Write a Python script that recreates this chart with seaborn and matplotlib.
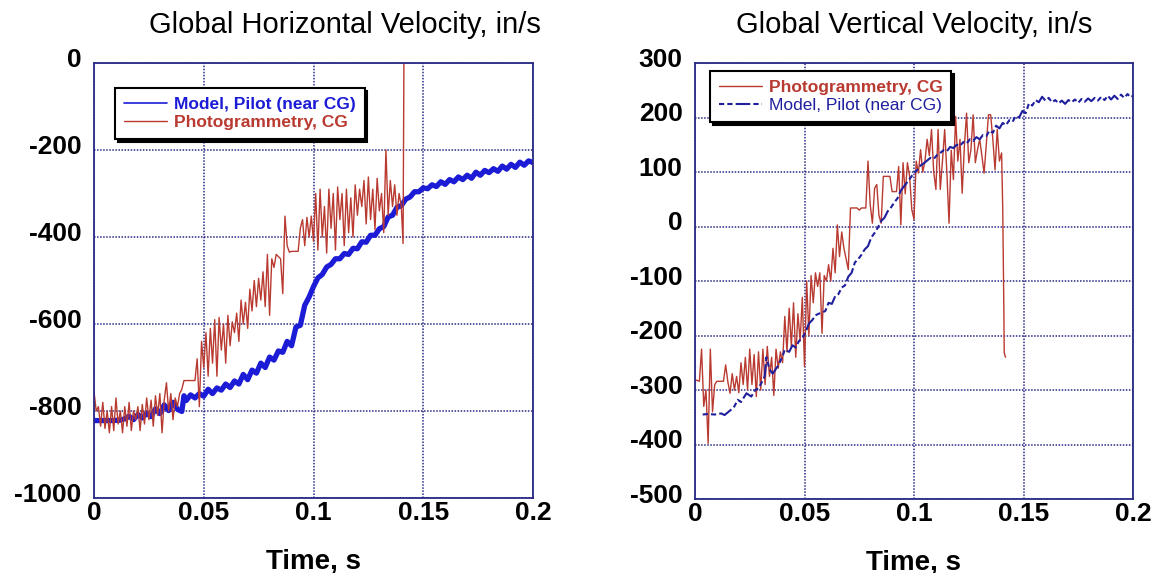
import numpy as np
import pandas as pd
import matplotlib
matplotlib.use('Agg')
import matplotlib.pyplot as plt
import matplotlib.transforms as mtransforms
import seaborn as sns

# ---------------------------------------------------------------
# Data (time in s, velocity in in/s)
# ---------------------------------------------------------------
# Horizontal velocity - photogrammetry (CG)
hz_photo_t = [0.000, 0.001, 0.002, 0.003, 0.004, 0.005, 0.006, 0.007, 0.008, 0.009,
              0.010, 0.011, 0.012, 0.013, 0.014, 0.015, 0.016, 0.017, 0.018, 0.019,
              0.020, 0.021, 0.022, 0.023, 0.024, 0.025, 0.026, 0.027, 0.028, 0.029,
              0.030, 0.031, 0.032, 0.033, 0.034, 0.035, 0.036, 0.037, 0.038, 0.039,
              0.040, 0.041, 0.042, 0.043, 0.044, 0.045, 0.046, 0.047, 0.048, 0.049,
              0.050, 0.051, 0.052, 0.053, 0.054, 0.055, 0.056, 0.057, 0.058, 0.059,
              0.060, 0.061, 0.062, 0.063, 0.064, 0.065, 0.066, 0.067, 0.068, 0.069,
              0.070, 0.071, 0.072, 0.073, 0.074, 0.075, 0.076, 0.077, 0.078, 0.079,
              0.080, 0.081, 0.082, 0.083, 0.084, 0.085, 0.086, 0.087, 0.088, 0.089,
              0.090, 0.091, 0.092, 0.093, 0.094, 0.095, 0.096, 0.097, 0.098, 0.099,
              0.100, 0.101, 0.102, 0.103, 0.104, 0.105, 0.106, 0.107, 0.108, 0.109,
              0.110, 0.111, 0.112, 0.113, 0.114, 0.115, 0.116, 0.117, 0.118, 0.119,
              0.120, 0.121, 0.122, 0.123, 0.124, 0.125, 0.126, 0.127, 0.128, 0.129,
              0.130, 0.131, 0.132, 0.133, 0.134, 0.135, 0.136, 0.137, 0.138, 0.139,
              0.140, 0.1408, 0.1412]
hz_photo_v = [-755, -800, -790, -835, -780, -840, -800, -850, -790, -845,
              -770, -830, -800, -850, -790, -835, -780, -845, -800, -820,
              -790, -845, -785, -830, -770, -820, -775, -835, -765, -810,
              -760, -850, -775, -735, -800, -760, -820, -770, -790, -760,
              -750, -730, -730, -730, -730, -730, -730, -680, -790, -640,
              -700, -620, -720, -610, -690, -590, -720, -585, -660, -600,
              -690, -580, -650, -595, -620, -575, -640, -545, -600, -550,
              -610, -520, -570, -500, -560, -495, -545, -480, -560, -440,
              -580, -450, -470, -440, -445, -450, -530, -352, -420, -435,
              -433, -433, -433, -433, -380, -360, -420, -355, -400, -352,
              -410, -300, -430, -290, -400, -330, -437, -290, -380, -300,
              -430, -285, -360, -300, -420, -290, -390, -310, -400, -280,
              -350, -290, -330, -270, -370, -262, -360, -290, -383, -265,
              -340, -300, -390, -200, -350, -270, -330, -280, -350, -300,
              -330, -415, 10]

# Horizontal velocity - model, pilot (near CG)
hz_model_t = [0.000, 0.004, 0.008, 0.012, 0.014, 0.016, 0.018, 0.020, 0.022, 0.024,
              0.026, 0.028, 0.030, 0.032, 0.034, 0.036, 0.038, 0.040, 0.041, 0.042,
              0.044, 0.046, 0.048, 0.050, 0.052, 0.054, 0.056, 0.058, 0.060, 0.062,
              0.064, 0.066, 0.068, 0.070, 0.072, 0.074, 0.076, 0.078, 0.080, 0.082,
              0.084, 0.086, 0.088, 0.090, 0.092, 0.094, 0.096, 0.098, 0.100, 0.102,
              0.104, 0.106, 0.108, 0.110, 0.112, 0.114, 0.116, 0.118, 0.120, 0.122,
              0.124, 0.126, 0.128, 0.130, 0.132, 0.134, 0.136, 0.138, 0.140, 0.142,
              0.144, 0.146, 0.148, 0.150, 0.152, 0.154, 0.156, 0.158, 0.160, 0.162,
              0.164, 0.166, 0.168, 0.170, 0.172, 0.174, 0.176, 0.178, 0.180, 0.182,
              0.184, 0.186, 0.188, 0.190, 0.192, 0.194, 0.196, 0.198, 0.200]
hz_model_v = [-822, -822, -822, -821, -818, -812, -820, -808, -816, -805,
              -813, -795, -806, -786, -799, -780, -796, -801, -765, -776,
              -763, -770, -760, -766, -750, -760, -747, -752, -738, -746,
              -731, -738, -716, -728, -706, -713, -690, -700, -676, -683,
              -662, -665, -640, -650, -607, -603, -557, -538, -514, -494,
              -486, -469, -463, -450, -450, -438, -440, -426, -427, -411,
              -412, -396, -396, -381, -376, -354, -350, -332, -328, -313,
              -308, -296, -296, -287, -289, -280, -284, -273, -279, -268,
              -273, -262, -268, -258, -265, -251, -258, -247, -252, -243,
              -249, -237, -244, -233, -240, -228, -235, -225, -229]

# Vertical velocity - photogrammetry (CG)
vt_photo_t = [0.000, 0.002, 0.003, 0.004, 0.005, 0.006, 0.007, 0.008, 0.009,
              0.010, 0.011, 0.012, 0.013, 0.014, 0.015, 0.016, 0.017, 0.018, 0.019,
              0.020, 0.021, 0.022, 0.023, 0.024, 0.025, 0.026, 0.027, 0.028, 0.029,
              0.030, 0.031, 0.032, 0.033, 0.034, 0.035, 0.036, 0.037, 0.038, 0.039,
              0.040, 0.041, 0.042, 0.043, 0.044, 0.045, 0.046, 0.047, 0.048, 0.049,
              0.050, 0.051, 0.052, 0.053, 0.054, 0.055, 0.056, 0.057, 0.058, 0.059,
              0.060, 0.061, 0.062, 0.063, 0.064, 0.065, 0.066, 0.067, 0.068, 0.069,
              0.070, 0.071, 0.072, 0.073, 0.074, 0.075, 0.076, 0.077, 0.078, 0.079,
              0.080, 0.081, 0.082, 0.083, 0.084, 0.085, 0.086, 0.087, 0.088, 0.089,
              0.090, 0.091, 0.092, 0.093, 0.094, 0.095, 0.096, 0.097, 0.098, 0.099,
              0.100, 0.101, 0.102, 0.103, 0.104, 0.105, 0.106, 0.107, 0.108, 0.109,
              0.110, 0.111, 0.112, 0.113, 0.114, 0.115, 0.116, 0.117, 0.118, 0.119,
              0.120, 0.121, 0.122, 0.123, 0.124, 0.125, 0.126, 0.127, 0.128, 0.129,
              0.130, 0.131, 0.132, 0.133, 0.134, 0.135, 0.136, 0.137, 0.138, 0.139,
              0.140, 0.1405, 0.1410, 0.1412, 0.1418]
vt_photo_v = [-281, -284, -225, -330, -300, -398, -225, -340, -290,
              -284, -284, -284, -284, -254, -285, -306, -270, -300, -275,
              -305, -250, -290, -240, -300, -225, -290, -235, -312, -230,
              -300, -225, -290, -220, -275, -240, -310, -225, -260, -230,
              -250, -165, -230, -150, -220, -140, -240, -160, -210, -130,
              -257, -100, -200, -90, -140, -85, -110, -85, -196, -90,
              -100, -70, -100, -40, -85, 3, -55, -10, -40, -60,
              -79, 34, 34, 34, 34, 30, 34, 34, 34, 120,
              40, 6, 70, 77, 20, 6, 92, 92, 92, 92,
              64, 64, 64, 110, 3, 117, 60, 117, 92, 31,
              13, 120, 98, 141, 100, 120, 160, 130, 178, 100,
              68, 178, 68, 120, 178, 100, 6, 140, 86, 202,
              120, 160, 61, 147, 208, 117, 141, 205, 117, 141,
              160, 130, 98, 150, 205, 205, 160, 104, 178, 120,
              135, 37, -140, -232, -240]

# Vertical velocity - model, pilot (near CG)
vt_model_t = [0.0035, 0.006, 0.009, 0.012, 0.0135, 0.0165, 0.018, 0.0195, 0.021, 0.0235,
              0.0257, 0.0275, 0.029, 0.031, 0.0318, 0.0326, 0.034, 0.0355, 0.038, 0.040,
              0.041, 0.043, 0.0445, 0.046, 0.0475, 0.049, 0.0505, 0.052, 0.0535, 0.055,
              0.0565, 0.058, 0.0595, 0.061, 0.0625, 0.064, 0.0655, 0.067, 0.0685, 0.070,
              0.0715, 0.073, 0.0745, 0.076, 0.0775, 0.079, 0.0805, 0.082, 0.0835, 0.085,
              0.0865, 0.088, 0.0895, 0.091, 0.0925, 0.094, 0.0955, 0.097, 0.0985, 0.100,
              0.1015, 0.103, 0.1045, 0.106, 0.1075, 0.109, 0.1105, 0.112, 0.1135, 0.115,
              0.1165, 0.118, 0.1195, 0.121, 0.1225, 0.124, 0.1255, 0.127, 0.1285, 0.130,
              0.1315, 0.133, 0.1345, 0.136, 0.1375, 0.139, 0.1405, 0.142, 0.1435, 0.145,
              0.1465, 0.148, 0.1495, 0.151, 0.1525, 0.154, 0.1555, 0.157, 0.1585, 0.160,
              0.1615, 0.163, 0.1645, 0.166, 0.1675, 0.169, 0.1705, 0.172, 0.1735, 0.175,
              0.1765, 0.178, 0.1795, 0.181, 0.1825, 0.184, 0.1855, 0.187, 0.1885, 0.190,
              0.1915, 0.193, 0.1945, 0.196, 0.1975, 0.199, 0.200]
vt_model_v = [-345, -344, -345, -343, -346, -336, -330, -318, -322, -306,
              -312, -300, -297, -282, -275, -240, -262, -270, -255, -238,
              -226, -230, -218, -222, -210, -205, -194, -178, -172, -163,
              -160, -158, -155, -140, -142, -128, -124, -112, -108, -92,
              -85, -66, -60, -52, -42, -36, -20, -12, -2, 10,
              16, 28, 35, 44, 52, 66, 74, 82, 90, 98,
              104, 112, 116, 121, 126, 124, 131, 135, 140, 138,
              146, 144, 150, 148, 155, 152, 160, 157, 164, 160,
              168, 166, 176, 172, 185, 180, 190, 186, 195, 192,
              203, 200, 212, 208, 226, 222, 232, 228, 238, 231,
              236, 228, 232, 226, 231, 225, 232, 228, 233, 227,
              234, 229, 235, 230, 236, 231, 238, 232, 240, 233,
              240, 234, 242, 236, 243, 237, 240]

x_ticks = [0, 0.05, 0.1, 0.15, 0.2]
x_ticklabels = ['0', '0.05', '0.1', '0.15', '0.2']
hz_yticks = [-1000, -800, -600, -400, -200, 0]
vt_yticks = [-500, -400, -300, -200, -100, 0, 100, 200, 300]

# ---------------------------------------------------------------
# Styling
# ---------------------------------------------------------------
sns.set_style('white')
plt.rcParams['font.family'] = ['Liberation Sans', 'DejaVu Sans']
plt.rcParams['axes.unicode_minus'] = False
plt.rcParams['text.color'] = 'black'
plt.rcParams['axes.labelcolor'] = 'black'
plt.rcParams['xtick.color'] = 'black'
plt.rcParams['ytick.color'] = 'black'

navy = '#2a2a86'
red = '#b93a30'
blue_bright = '#1c1cd6'
blue_dark = '#1f1f9e'

fig = plt.figure(figsize=(11.56, 5.73), dpi=100)
ax1 = fig.add_axes([94 / 1156, 75 / 573, 439 / 1156, 435 / 573])
ax2 = fig.add_axes([695 / 1156, 74 / 573, 438 / 1156, 436 / 573])

# ─── Left: horizontal velocity ───
sns.lineplot(x=hz_model_t, y=hz_model_v, ax=ax1, estimator=None, sort=False,
             color=blue_bright, linewidth=3.8, label='Model, Pilot (near CG)')
sns.lineplot(x=hz_photo_t, y=hz_photo_v, ax=ax1, estimator=None, sort=False,
             color=red, linewidth=1.0, label='Photogrammetry, CG')
ax1.set_ylim(-1000, 0)
ax1.set_yticks(hz_yticks)

# ─── Right: vertical velocity ───
sns.lineplot(x=vt_photo_t, y=vt_photo_v, ax=ax2, estimator=None, sort=False,
             color=red, linewidth=1.0, label='Photogrammetry, CG')
sns.lineplot(x=vt_model_t, y=vt_model_v, ax=ax2, estimator=None, sort=False,
             color=blue_dark, linewidth=1.5, dashes=False,
             label='Model, Pilot (near CG)')
ax2.lines[-1].set_linestyle((0, (2.5, 1.5, 2.5, 1.5, 7, 1.5)))
ax2.set_ylim(-500, 300)
ax2.set_yticks(vt_yticks)

lift = mtransforms.ScaledTranslation(0, 4 / 72, fig.dpi_scale_trans)
for ax in (ax1, ax2):
    ax.set_xlim(0, 0.2)
    ax.set_xticks(x_ticks)
    ax.set_xticklabels(x_ticklabels)
    ax.grid(True, linestyle=(0, (1, 1)), color=navy, linewidth=1.1)
    for sp in ax.spines.values():
        sp.set_visible(True)
        sp.set_color(navy)
        sp.set_linewidth(1.3)
    ax.tick_params(axis='both', length=0, labelsize=19, labelcolor='black')
    ax.tick_params(axis='x', pad=2)
    ax.tick_params(axis='y', pad=9)
    for lbl in ax.get_xticklabels():
        lbl.set_fontweight('bold')
    for lbl in ax.get_yticklabels():
        lbl.set_fontweight('bold')
        lbl.set_transform(lbl.get_transform() + lift)
    ax.set_xlabel('Time, s', fontsize=20, fontweight='bold', color='black')
    ax.xaxis.set_label_coords(0.5, -0.115)
    ax.set_ylabel('')

# Legends
leg_kw = dict(loc='upper left', borderaxespad=0, fontsize=12.5, fancybox=False,
              framealpha=1, edgecolor='black', handlelength=2.5, handletextpad=0.4,
              labelspacing=0.2, borderpad=0.5, shadow={'color': 'black', 'alpha': 1})
leg1 = ax1.legend(bbox_to_anchor=(0.048, 0.9425), **leg_kw)
leg1.get_frame().set_linewidth(1.5)
leg1.get_lines()[0].set_linewidth(1.2)
for txt, col in zip(leg1.get_texts(), [blue_bright, red]):
    txt.set_color(col)
    txt.set_fontweight('bold')

leg2 = ax2.legend(bbox_to_anchor=(0.034, 0.982), **leg_kw)
leg2.get_frame().set_linewidth(1.5)
t_photo, t_model = leg2.get_texts()
t_photo.set_color(red)
t_photo.set_fontweight('bold')
t_model.set_color(blue_dark)

# Titles
fig.text(345 / 1156, 1 - 25 / 573, 'Global Horizontal Velocity, in/s',
         ha='center', va='center', fontsize=21, color='black')
fig.text(914 / 1156, 1 - 25 / 573, 'Global Vertical Velocity, in/s',
         ha='center', va='center', fontsize=21, color='black')

fig.savefig('out.png', dpi=100)
